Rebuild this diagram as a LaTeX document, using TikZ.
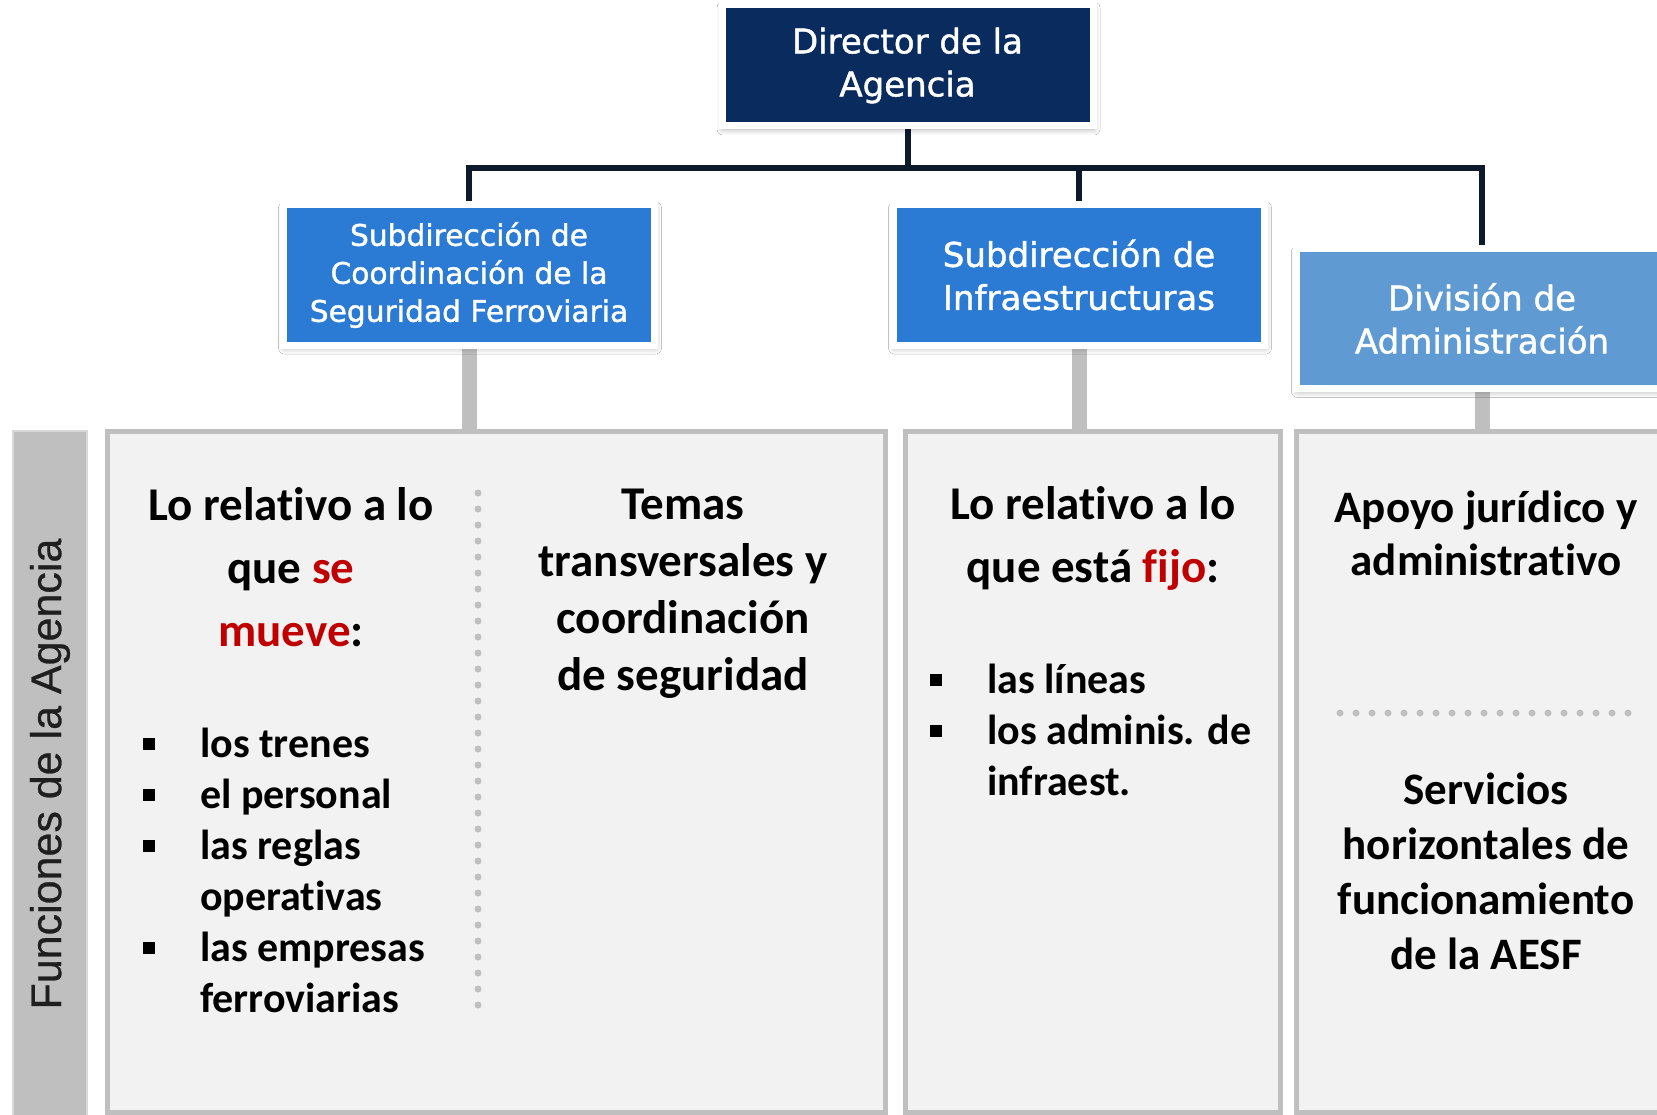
\documentclass[tikz,border=0pt]{standalone}
\usepackage{fontspec}
\setmainfont[Ligatures=NoCommon,Contextuals=NoAlternate]{Carlito}
\newfontfamily\titlefont[FakeBold=1.3]{DejaVu Sans}
\newfontfamily\sidefont[FakeBold=0.6]{Liberation Sans}
\usepackage{xcolor}
\usetikzlibrary{shadows,shadows.blur,backgrounds}

\definecolor{navy}{HTML}{0A2B5E}
\definecolor{subblue}{HTML}{2B7BD4}
\definecolor{divblue}{HTML}{5F9BD2}
\definecolor{darkline}{HTML}{0C1A2C}
\definecolor{boxgray}{HTML}{BFBFBF}
\definecolor{boxfill}{HTML}{F2F2F2}
\definecolor{sidetext}{HTML}{1F1F1F}
\definecolor{hotred}{HTML}{C00000}

\newcommand{\hot}[1]{\textcolor{hotred}{#1}}
\newcommand{\sqbul}{\makebox[57pt][l]{\rule[7pt]{12pt}{12pt}}}

\begin{document}
\begin{tikzpicture}[x=1pt,y=-1pt,
	headbox/.style={rectangle,draw=white,line width=7pt,minimum width=371pt,inner sep=0pt,
		text=white,align=center,font={\titlefont\fontsize{34}{43}\selectfont},
		blur shadow={shadow xshift=1pt,shadow yshift=-3pt,shadow blur radius=6pt,shadow opacity=35}},
	funcbox/.style={rectangle,draw=boxgray,fill=boxfill,line width=5pt,minimum height=681pt,inner sep=0pt},
	bigtext/.style={align=center,inner sep=0pt,font={\bfseries\fontsize{47}{63}\selectfont}},
	listtext/.style={inner sep=0pt,anchor=base west,font={\bfseries\fontsize{42}{51}\selectfont}},
	orgline/.style={draw=darkline,line width=6pt},
	stem/.style={draw=boxgray,line width=15pt},
	dotsep/.style={draw=boxgray,line width=7pt,line cap=round,dash pattern=on 0pt off 16pt}]

	\useasboundingbox (0,0) rectangle (1657,1115);

	% cabecera
	\node[headbox,fill=navy,minimum height=121pt] (dir) at (907.5,65.5) {Director de la\\Agencia};
	\node[headbox,fill=subblue,minimum height=140pt,font={\titlefont\fontsize{29.7}{38}\selectfont}] (sc) at (469,275)
		{Subdirección de\\Coordinación de la\\Seguridad Ferroviaria};
	\node[headbox,fill=subblue,minimum height=140pt] (si) at (1079,275) {Subdirección de\\Infraestructuras};
	\node[headbox,fill=divblue,minimum height=140pt] (da) at (1482,318.5) {División de\\Administración};

	% funciones
	\node[rectangle,rotate=90,fill=boxgray,draw=boxgray!60,line width=1.5pt,minimum width=686pt,minimum height=74pt,
		inner sep=0pt,text=sidetext,font={\sidefont\fontsize{43}{50}\selectfont}] (fbar) at (50,774) {Funciones de la Agencia};
	\node[funcbox,minimum width=778pt] (fsc) at (496.5,772) {};
	\node[funcbox,minimum width=375pt] (fsi) at (1093,772) {};
	\node[funcbox,minimum width=380pt] (fda) at (1486.5,772) {};

	\begin{pgfonlayer}{background}
		\fill[white] (0,0) rectangle (1657,1115);
		\draw[orgline] (dir.south) -- ++(0,39) -| (sc.north);
		\draw[orgline] (dir.south) ++(0,39) -| (si.north);
		\draw[orgline] (dir.south) ++(0,39) -| (da.north);
		\draw[stem] (sc.south) -- (sc.south |- fsc.north);
		\draw[stem] (si.south) -- (si.south |- fsi.north);
		\draw[stem] (da.south) -- (da.south |- fda.north);
	\end{pgfonlayer}

	\draw[dotsep] (478,493) -- (478,1008);
	\draw[dotsep] (1340,713) -- (1630,713);

	% textos
	\node[bigtext] (mov) at (291,567) {Lo relativo a lo\\que \hot{se}\\\hot{mueve}:};
	\node[bigtext,font={\bfseries\fontsize{47}{57}\selectfont}] (tem) at (683,593.5)
		{Temas\\transversales y\\coordinación\\de seguridad};
	\node[bigtext] (fij) at (1093,538) {Lo relativo a lo\\que está \hot{fijo}:};
	\node[bigtext,font={\bfseries\fontsize{45}{53}\selectfont}] (apo) at (1486,533.5) {Apoyo jurídico y\\administrativo};
	\node[bigtext,font={\bfseries\fontsize{45}{55}\selectfont}] (ser) at (1486,871.5)
		{Servicios\\horizontales de\\funcionamiento\\de la AESF};

	\node[listtext] (lmov) at (143,757) {\begin{tabular}[t]{@{}l@{}l@{}}
		\sqbul & los trenes\\ \sqbul & el personal\\ \sqbul & las reglas\\ & operativas\\
		\sqbul & las empresas\\ & ferroviarias\end{tabular}};
	\node[listtext] (lfij) at (930,693) {\begin{tabular}[t]{@{}l@{}l@{}}
		\sqbul & las líneas\\ \sqbul & los adminis. de\\ & infraest.\end{tabular}};
\end{tikzpicture}
\end{document}
